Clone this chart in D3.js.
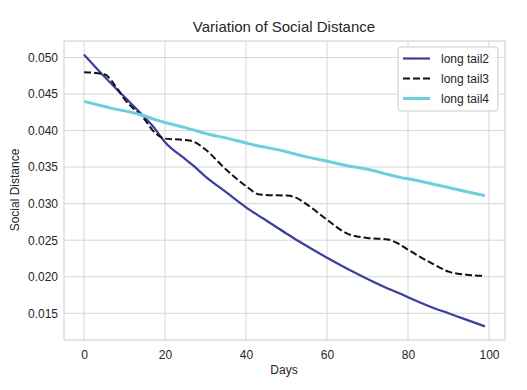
<!DOCTYPE html>
<html><head><meta charset="utf-8">
<script src="https://cdn.jsdelivr.net/npm/d3@7"></script>
<style>body{margin:0;background:#fff;}svg{display:block;font-family:"Liberation Sans",Arial,sans-serif;}</style>
</head><body>
<svg id="c" width="527" height="390"></svg>
<script>
const days = [0,5,8,10,15,17,20,25,27,30,35,40,43,45,50,52,55,60,65,70,75,78,80,86,90,94,99];
const tail2 = [0.0504,0.0474,0.0457,0.0446,0.0418,0.0406,0.0384,0.0361,0.0352,0.0337,0.0316,0.0295,0.0284,0.0277,0.0259,0.0252,0.0242,0.0226,0.0211,0.0197,0.0184,0.0177,0.0172,0.0158,0.0150,0.0142,0.0132];
const tail3 = [0.0480,0.0477,0.0459,0.0443,0.0415,0.0400,0.0389,0.0387,0.0385,0.0374,0.0347,0.0324,0.0313,0.0312,0.0311,0.0309,0.0299,0.0278,0.0259,0.0253,0.0251,0.0244,0.0237,0.0218,0.0207,0.0203,0.0201];
const tail4 = [0.0440,0.0433,0.0429,0.0427,0.0420,0.0416,0.0411,0.0404,0.0401,0.0396,0.0390,0.0383,0.0379,0.0377,0.0371,0.0368,0.0364,0.0358,0.0352,0.0347,0.0340,0.0336,0.0334,0.0327,0.0322,0.0317,0.0311];
const xTicks = [0,20,40,60,80,100];
const yTicks = [0.015,0.020,0.025,0.030,0.035,0.040,0.045,0.050];
const seriesNames = ["long tail2","long tail3","long tail4"];
const seriesColors = ["#3a3f9c","#111111","#6ccfdb"];
const seriesWidths = [2.2,2,3];
const seriesDash = [null,"7,3",null];

const svg = d3.select("#c");
const L=64,R=505,T=41,B=340;
const x = d3.scaleLinear().domain([-4.95,103.95]).range([L,R]);
const y = d3.scaleLinear().domain([0.01134,0.05226]).range([B,T]);

const g = svg.append("g");
g.selectAll(".gx").data(xTicks).enter().append("line")
 .attr("x1",d=>x(d)).attr("x2",d=>x(d)).attr("y1",T).attr("y2",B)
 .attr("stroke","#d6d6d6").attr("stroke-width",1);
g.selectAll(".gy").data(yTicks).enter().append("line")
 .attr("y1",d=>y(d)).attr("y2",d=>y(d)).attr("x1",L).attr("x2",R)
 .attr("stroke","#d6d6d6").attr("stroke-width",1);
g.append("rect").attr("x",L).attr("y",T).attr("width",R-L).attr("height",B-T)
 .attr("fill","none").attr("stroke","#cccccc").attr("stroke-width",1);

const xa = svg.append("g").attr("transform",`translate(0,${B})`)
 .call(d3.axisBottom(x).tickValues(xTicks).tickSize(0).tickPadding(10).tickFormat(d3.format("d")));
const ya = svg.append("g").attr("transform",`translate(${L},0)`)
 .call(d3.axisLeft(y).tickValues(yTicks).tickSize(0).tickPadding(6).tickFormat(d3.format(".3f")));
[xa,ya].forEach(a=>{a.select(".domain").remove();a.selectAll("text").attr("font-size",12).attr("fill","#262626").attr("font-family","Liberation Sans, Arial, sans-serif");});

const data=[tail2,tail3,tail4];
const line = d3.line().x((d,i)=>x(days[i])).y(d=>y(d)).curve(d3.curveMonotoneX);
[0,1,2].forEach(k=>{
  svg.append("path").datum(data[k]).attr("d",line).attr("fill","none")
   .attr("stroke",seriesColors[k]).attr("stroke-width",seriesWidths[k])
   .attr("stroke-dasharray",seriesDash[k]).attr("stroke-linejoin","round");
});

svg.append("text").attr("x",284).attr("y",32).attr("text-anchor","middle")
 .attr("font-size",15).attr("fill","#262626").text("Variation of Social Distance");
svg.append("text").attr("x",284).attr("y",374).attr("text-anchor","middle")
 .attr("font-size",12).attr("fill","#262626").text("Days");
svg.append("text").attr("transform","translate(19,190) rotate(-90)").attr("text-anchor","middle")
 .attr("font-size",12).attr("fill","#262626").text("Social Distance");

const lg = svg.append("g");
lg.append("rect").attr("x",398).attr("y",47).attr("width",100).attr("height",64).attr("rx",3)
 .attr("fill","#ffffff").attr("fill-opacity",0.85).attr("stroke","#cccccc");
seriesNames.forEach((n,k)=>{
  const yy = 58.5 + k*20;
  lg.append("line").attr("x1",403).attr("x2",430).attr("y1",yy).attr("y2",yy)
   .attr("stroke",seriesColors[k]).attr("stroke-width",seriesWidths[k]).attr("stroke-dasharray",seriesDash[k]);
  lg.append("text").attr("x",441).attr("y",yy+4.5).attr("font-size",12).attr("fill","#262626").text(n);
});
</script>
</body></html>
